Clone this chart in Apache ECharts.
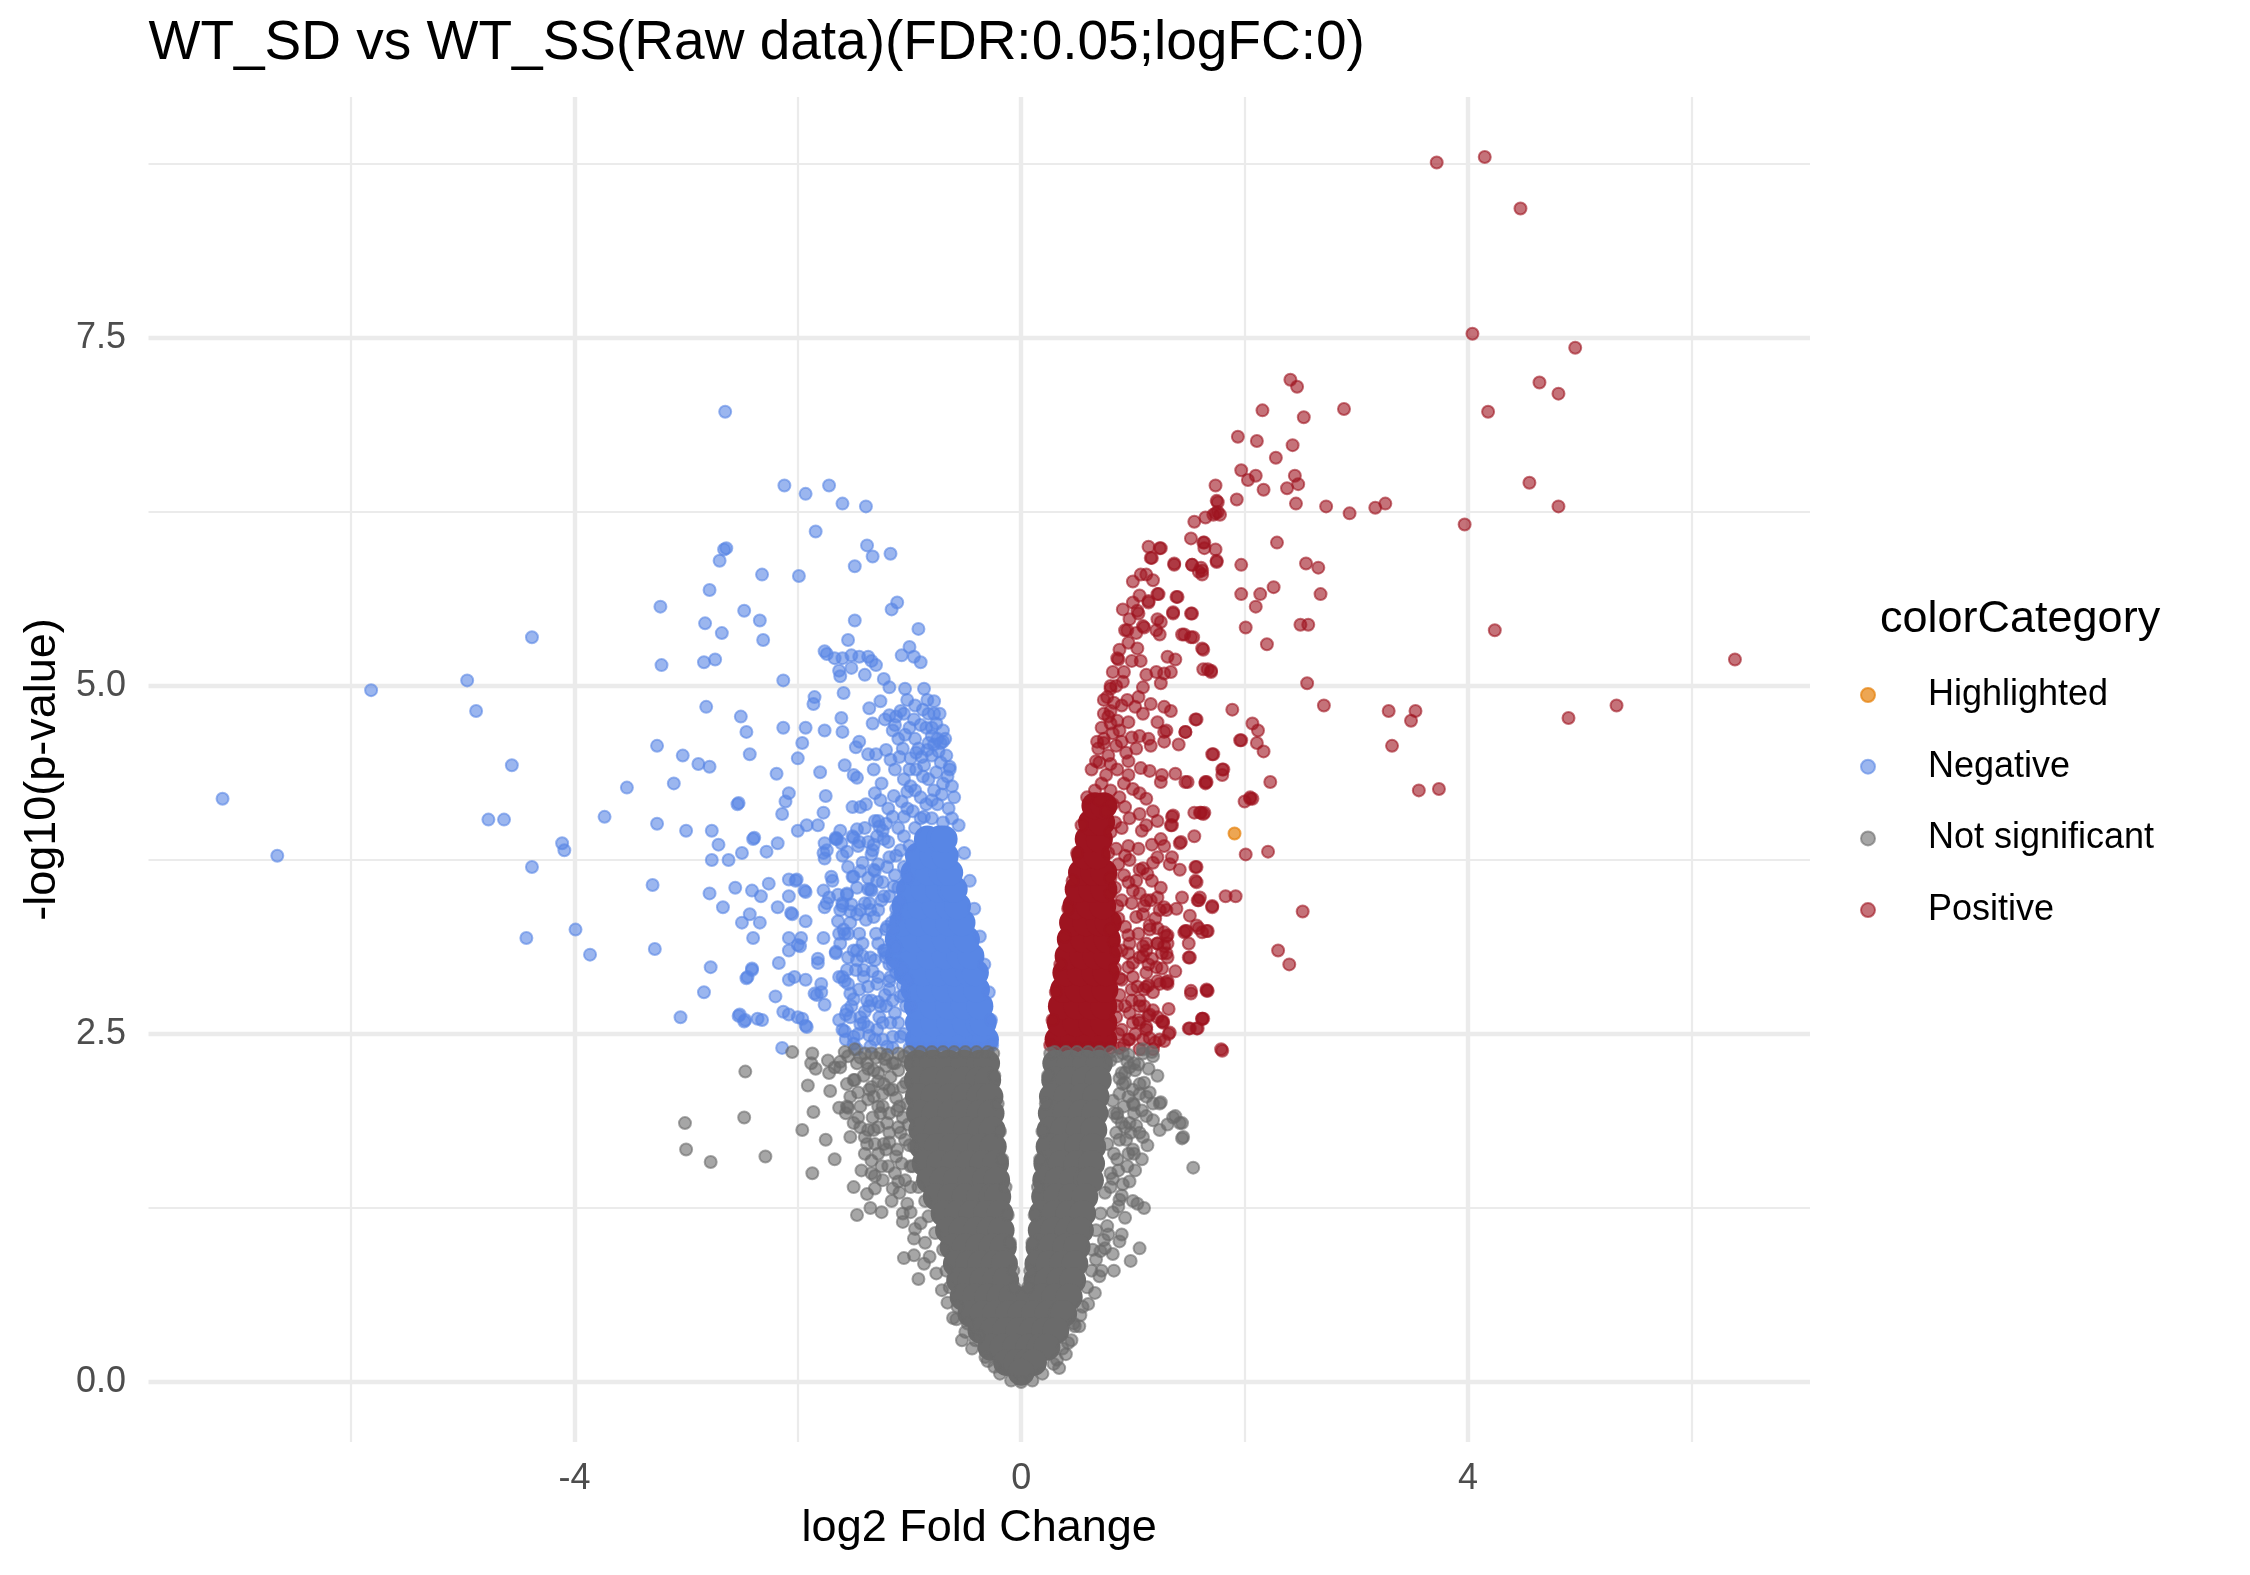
<!DOCTYPE html>
<html><head><meta charset="utf-8">
<script src="https://cdn.jsdelivr.net/npm/echarts@6/dist/echarts.min.js"></script>
<style>html,body{margin:0;padding:0;background:#fff}#chart{width:2250px;height:1575px}</style>
</head><body><div id="chart"></div>
<script>
const titleText = 'WT_SD vs WT_SS(Raw data)(FDR:0.05;logFC:0)';
const xTitle = 'log2 Fold Change';
const yTitle = '-log10(p-value)';
const legendTitle = 'colorCategory';
const categories = ['Highlighted', 'Negative', 'Not significant', 'Positive'];
const xTicks = [-4, 0, 4];
const yTicks = [0, 2.5, 5, 7.5];
const xMajorGrid = [-4, 0, 4];
const xMinorGrid = [-6, -2, 2, 6];
const yMajorGrid = [0, 2.5, 5, 7.5];
const yMinorGrid = [1.25, 3.75, 6.25, 8.75];

// [log2FC, -log10 p]
const highlighted = [[1.91,3.94],[-0.32,0.68]];

const negative = [
[-2.65,6.97],[-2.12,6.44],[-1.93,6.38],[-1.72,6.44],[-1.60,6.31],[-1.39,6.29],[-1.84,6.11],[-2.64,5.99],[-2.66,5.98],[-2.70,5.90],
[-1.38,6.01],[-1.33,5.93],[-1.17,5.95],[-1.49,5.86],[-2.32,5.80],[-1.99,5.79],[-2.79,5.69],[-3.23,5.57],[-1.11,5.60],[-1.16,5.55],
[-2.48,5.54],[-2.83,5.45],[-2.34,5.47],[-1.49,5.47],[-0.92,5.41],[-2.68,5.38],[-2.31,5.33],[-4.38,5.35],[-1.55,5.33],[-1.76,5.25],
[-1.74,5.23],[-1.00,5.28],[-1.07,5.22],[-0.96,5.21],[-0.90,5.17],[-1.67,5.20],[-1.60,5.20],[-1.52,5.22],[-1.45,5.21],[-1.37,5.21],
[-1.34,5.18],[-1.30,5.15],[-1.63,5.11],[-1.62,5.07],[-1.40,5.08],[-1.52,5.13],[-3.22,5.15],[-2.84,5.17],[-2.74,5.19],[-4.96,5.04],
[-5.82,4.97],[-4.88,4.82],[-2.13,5.04],[-1.23,5.05],[-1.18,4.99],[-1.04,4.98],[-1.02,4.90],[-0.87,4.98],[-0.78,4.89],[-1.59,4.95],
[-1.85,4.92],[-1.86,4.87],[-2.82,4.85],[-2.51,4.78],[-2.46,4.67],[-2.43,4.51],[-2.13,4.70],[-1.93,4.70],[-1.76,4.68],[-1.61,4.77],
[-1.60,4.67],[-1.36,4.84],[-1.26,4.89],[-1.18,4.79],[-1.12,4.78],[-1.05,4.80],[-0.96,4.76],[-0.88,4.83],[-0.83,4.80],[-0.76,4.73],
[-0.70,4.68],[-0.72,4.59],[-0.78,4.58],[-1.33,4.73],[-1.22,4.76],[-1.13,4.72],[-1.96,4.59],[-2.00,4.48],[-3.26,4.57],[-3.03,4.50],
[-2.89,4.44],[-2.79,4.42],[-4.56,4.43],[-3.53,4.27],[-3.11,4.30],[-2.19,4.37],[-1.80,4.38],[-1.75,4.21],[-1.58,4.43],[-1.50,4.36],
[-1.47,4.34],[-1.45,4.60],[-1.48,4.56],[-1.37,4.51],[-1.30,4.51],[-1.21,4.54],[-1.10,4.62],[-1.04,4.65],[-1.09,4.49],[-0.99,4.48],
[-0.89,4.49],[-0.83,4.59],[-0.80,4.64],[-1.32,4.40],[-1.25,4.30],[-1.13,4.40],[-1.05,4.33],[-0.94,4.40],[-0.83,4.33],[-0.67,4.50],
[-0.64,4.42],[-0.62,4.28],[-2.53,4.16],[-2.08,4.23],[-2.11,4.17],[-2.14,4.08],[-1.77,4.09],[-1.92,4.00],[-1.82,4.00],[-2.39,3.91],
[-2.77,3.96],[-2.71,3.86],[-2.62,3.75],[-2.50,3.80],[-2.28,3.81],[-2.18,3.87],[-2.00,3.96],[-1.66,3.91],[-1.62,3.96],[-1.56,3.81],
[-1.50,3.91],[-1.51,4.13],[-1.44,4.13],[-1.39,4.15],[-1.31,4.23],[-1.26,4.18],[-1.19,4.12],[-1.31,4.03],[-1.24,3.96],[-1.15,4.06],
[-1.07,4.17],[-0.99,4.28],
[-7.15,4.19],[-6.66,3.78],[-4.77,4.04],[-4.63,4.04],[-4.38,3.70],[-4.11,3.87],[-4.09,3.82],[-3.73,4.06],[-4.43,3.19],[-3.99,3.25],
[-3.86,3.07],[-3.30,3.57],[-3.28,3.11],[-3.26,4.01],[-3.00,3.96],[-2.77,3.75],[-2.54,4.15],[-2.40,3.90],
[-2.79,3.51],[-2.56,3.55],[-2.41,3.53],[-2.26,3.58],[-2.67,3.41],[-2.50,3.30],[-2.43,3.36],[-2.40,3.19],[-2.18,3.41],[-2.06,3.37],
[-2.08,3.61],[-2.01,3.61],[-1.93,3.52],[-2.08,3.19],[-1.97,3.19],[-2.08,3.10],[-2.00,3.14],[-1.93,2.89],[-2.17,3.01],[-2.78,2.98],
[-2.41,2.97],[-2.45,2.91],[-2.84,2.80],[-2.20,2.77],[-3.05,2.62],[-2.53,2.63],[-2.47,2.60],[-2.36,2.61],[-2.13,2.66],[-2.08,2.64],
[-2.00,2.62],[-1.93,2.56],[-2.14,2.40],[-1.83,2.78],[-1.82,3.04],[-1.79,2.80],[-1.76,3.76],[-1.74,3.82],[-1.60,3.78],[-1.66,3.90],
[-1.51,3.92],[-1.47,3.97],[-1.76,3.41],[-1.60,3.44],[-1.70,3.63],[-1.51,3.63],[-1.66,3.09],[-1.63,2.91],[-1.50,2.75],[-1.57,2.64],
[-1.44,2.57],[-1.63,3.22],[-1.45,3.22],[-1.53,3.30],[-1.35,3.39],[-1.37,3.54],[-1.31,3.67],[-1.34,3.79],[-1.29,3.92],[-1.21,4.01],
[-1.57,2.46],[-1.36,2.49],[-1.24,2.46],[-1.15,2.40],[-1.28,2.73],[-1.18,2.88],[-1.11,3.00],
[-2.33,3.49],[-2.34,3.30],[-2.02,3.60],[-2.08,3.49],[-2.05,3.36],[-1.93,3.31],[-1.94,3.53],[-1.98,3.13],[-1.77,3.19],[-1.77,3.53],
[-1.72,3.48],[-1.64,3.50],[-1.74,3.44],[-1.69,3.60],[-1.56,3.50],[-1.52,3.43],[-1.47,3.36],[-1.58,3.22],[-1.55,3.22],[-1.64,3.31],
[-1.62,3.39],[-1.77,3.80],[-1.76,3.87],[-1.61,3.87],[-1.65,3.90],[-1.45,3.88],[-1.37,3.88],[-1.32,3.86],[-1.44,3.67],[-1.37,3.62],
[-1.34,3.53],[-1.36,3.44],[-1.39,3.32],[-1.50,3.10],[-1.42,3.06],[-1.28,4.03],[-1.23,3.90],[-1.18,3.77],[-1.28,3.72],[-1.24,3.59],
[-1.18,3.49],[-1.28,3.39],[-1.21,3.25],[-1.28,3.15],[-1.15,3.15],[-1.21,3.05],[-1.12,3.34],[-1.13,3.64],[-1.08,3.82],[-1.10,3.98],
[-1.05,4.06],
[-2.41,2.96],[-2.46,2.90],[-2.52,2.64],[-2.48,2.59],[-2.32,2.60],[-1.96,2.61],[-1.92,2.55],[-2.08,2.89],[-2.03,2.91],[-1.82,3.01],
[-1.85,2.79],[-1.76,2.71],[-1.79,2.86],[-1.66,3.08],[-1.60,2.91],[-1.55,2.86],[-1.63,2.60],[-1.60,2.53],[-1.50,2.48],[-1.56,2.67],
[-1.47,3.03],[-1.41,2.96],[-1.37,2.84],[-1.34,2.74],[-1.44,2.62],[-1.37,2.55],[-1.31,2.46],[-1.47,2.39],[-1.24,2.58],[-1.21,2.70],
[-1.18,2.82],[-1.28,2.91],[-1.31,3.03],[-1.21,3.08],[-1.12,2.94],[-1.08,2.77],[-1.10,2.58],[-1.15,2.48],[-0.99,2.70],[-1.02,2.89],
[-1.50,3.63],[-1.32,3.68],[-1.56,3.51],[-1.35,3.54],[-1.23,3.49],[-1.44,3.39],[-1.59,3.25],[-1.32,3.34],[-1.20,3.27],[-1.47,3.10],
[-1.35,3.05],[-1.23,3.10],[-1.56,2.96],[-1.41,2.91],[-1.29,2.86],[-1.17,2.91],[-1.53,2.79],[-1.38,2.74],[-1.26,2.70],[-1.15,2.74],
[-1.53,2.62],[-1.41,2.58],[-1.29,2.53],[-1.17,2.58],[-1.50,2.43],[-1.35,2.41],[-1.20,2.41],[-1.08,2.48],
[-1.58,2.52],[-1.46,2.50],[-1.40,2.66],[-1.52,2.70],[-1.27,2.62],[-1.13,2.65],[-1.05,2.78],[-1.22,2.78],[-1.45,2.82],[-1.58,2.88],
[-1.33,2.95],[-1.18,3.00],[-1.07,2.97],[-1.42,3.15],[-1.55,3.05],[-1.30,3.22],[-1.16,3.30],[-1.40,3.44],[-1.53,3.38],[-1.25,3.46],
[-1.14,3.56],[-1.47,3.55],[-1.29,3.60],[-1.42,3.73],[-1.20,3.70],[-1.55,3.70],[-1.12,3.78],[-1.33,3.82],[-1.46,3.85],[-1.19,3.88],
[-1.05,3.92],[-1.40,3.98],[-1.27,3.99],[-1.60,3.42],[-1.62,3.15],[-1.36,2.70],[-1.48,2.96],[-1.12,3.12],[-1.09,3.45],[-1.02,3.62],
[-1.14,4.21],[-1.02,4.24],[-0.90,4.20],[-0.80,4.18],[-0.71,4.22],[-0.66,4.35],[-0.76,4.38],[-0.87,4.43],[-1.00,4.40],[-1.17,4.47],
[-1.06,4.55],[-0.94,4.52],[-0.84,4.54],[-0.74,4.53],[-0.68,4.62],[-0.80,4.70],[-0.90,4.72],[-1.00,4.70],[-1.15,4.68],[-1.08,4.82],
[-0.95,4.86],[-0.84,4.90],[-0.73,4.80],[-0.97,4.10],[-0.87,4.06],[-0.62,4.05],[-1.02,4.12],
[-0.26,2.42],[-0.27,2.60],[-0.29,2.80],[-0.33,3.00],[-0.37,3.20],[-0.42,3.40],[-0.46,3.60],[-0.51,3.80],[-0.56,4.00],[-0.60,4.20],
[-0.64,4.40],[-0.70,4.60],[-0.78,4.80],
[-1.00,2.40],[-0.90,2.40],[-0.80,2.40],[-0.70,2.40],[-0.60,2.40],[-0.50,2.40],[-0.40,2.40],[-0.32,2.40],
[-1.05,2.50],[-1.03,2.70],[-1.06,2.85],[-1.15,3.00],[-1.22,3.10],[-1.15,3.25],[-1.12,3.40],[-1.10,3.55],[-1.05,3.70],[-1.00,3.85],
[-0.95,3.98],[-0.90,4.05],[-0.80,4.05],[-0.70,4.02],[-0.75,4.15],[-0.85,4.15],[-0.65,4.12],[-0.95,4.25],[-0.88,4.35],[-0.78,4.25],
[-0.70,4.30],[-0.72,4.45],[-0.80,4.50],[-0.92,4.55],[-0.75,4.62],[-0.85,4.70],[-0.95,4.62]
];

// saturated overlap of many Negative genes
const negativeDense = [
[-0.92,2.46],[-0.78,2.46],[-0.64,2.46],[-0.50,2.46],[-0.38,2.46],[-0.32,2.46],
[-0.92,2.58],[-0.78,2.58],[-0.64,2.58],[-0.50,2.58],[-0.38,2.58],[-0.34,2.58],
[-0.93,2.70],[-0.79,2.70],[-0.65,2.70],[-0.51,2.70],[-0.37,2.70],
[-0.96,2.82],[-0.82,2.82],[-0.68,2.82],[-0.54,2.82],[-0.40,2.82],
[-1.02,2.94],[-0.88,2.94],[-0.74,2.94],[-0.60,2.94],[-0.47,2.94],[-0.41,2.94],
[-1.10,3.06],[-0.96,3.06],[-0.82,3.06],[-0.68,3.06],[-0.55,3.06],[-0.45,3.06],
[-1.10,3.18],[-0.96,3.18],[-0.82,3.18],[-0.68,3.18],[-0.56,3.18],[-0.49,3.18],
[-1.06,3.30],[-0.92,3.30],[-0.78,3.30],[-0.65,3.30],[-0.53,3.30],
[-1.04,3.42],[-0.90,3.42],[-0.77,3.42],[-0.65,3.42],[-0.57,3.42],
[-1.00,3.54],[-0.87,3.54],[-0.74,3.54],[-0.63,3.54],[-0.60,3.54],
[-0.96,3.66],[-0.83,3.66],[-0.71,3.66],[-0.64,3.66],
[-0.92,3.78],[-0.79,3.78],[-0.68,3.78],
[-0.84,3.90],[-0.73,3.90],[-0.69,3.90]
];

const positive = [
[3.72,8.76],[4.15,8.80],[4.47,8.43],[4.04,7.53],[4.96,7.43],[2.41,7.20],[2.47,7.15],[4.64,7.18],[4.81,7.10],[2.16,6.98],
[2.89,6.99],[4.18,6.97],[2.53,6.93],[1.94,6.79],[2.11,6.76],[2.43,6.73],[2.28,6.64],[1.97,6.55],[2.03,6.48],[2.10,6.51],
[2.45,6.51],[2.48,6.45],[2.38,6.42],[2.17,6.41],[1.74,6.44],[4.55,6.46],[1.93,6.34],[1.75,6.33],[1.76,6.25],[1.72,6.23],
[2.46,6.31],[2.73,6.29],[2.94,6.24],[3.17,6.28],[3.26,6.31],[4.81,6.29],[3.97,6.16],[1.55,6.18],[1.65,6.21],[1.52,6.06],
[1.64,6.03],[1.74,5.98],[2.29,6.03],[1.24,5.99],[1.17,5.92],[1.37,5.88],[1.53,5.87],[1.59,5.82],[1.62,5.83],[1.75,5.90],
[1.97,5.87],[2.55,5.88],[2.66,5.85],[1.00,5.75],[1.22,5.66],[1.39,5.64],[1.14,5.60],[1.04,5.54],[1.97,5.66],[2.14,5.66],
[2.26,5.71],[2.10,5.57],[2.68,5.66],[1.36,5.53],[1.52,5.52],[1.22,5.48],[1.09,5.43],[1.24,5.37],[1.44,5.37],[1.52,5.35],
[1.62,5.27],[1.67,5.12],[1.70,5.11],[2.20,5.30],[2.01,5.42],[2.50,5.44],[2.57,5.44],[4.24,5.40],[6.39,5.19],[2.56,5.02],
[1.89,4.83],[2.71,4.86],[3.29,4.82],[3.53,4.82],[3.49,4.75],[2.07,4.73],[2.12,4.68],[1.96,4.61],[2.17,4.53],[3.32,4.57],
[1.56,4.76],[1.47,4.67],[1.71,4.51],[1.80,4.40],[1.65,4.31],[2.23,4.31],[5.33,4.86],[4.90,4.77],[3.56,4.25],[3.74,4.26],
[2.05,4.20],[2.07,4.19],
[2.01,3.79],[2.21,3.81],[1.61,4.09],[1.64,4.09],[1.35,4.06],[1.35,4.00],[1.55,3.92],[1.43,3.88],[1.25,3.90],[1.56,3.70],
[1.56,3.60],[1.35,3.77],[1.83,3.49],[1.92,3.49],[1.71,3.42],[1.58,3.46],[1.51,3.35],[1.30,3.39],[1.22,3.48],[2.52,3.38],
[2.30,3.10],[2.40,3.00],[1.67,3.24],[1.59,3.26],[1.47,3.24],[1.31,3.21],[1.22,3.26],[1.51,3.05],[1.30,3.08],[1.22,3.15],
[1.12,3.15],[1.67,2.81],[1.52,2.79],[1.31,2.86],[1.22,2.88],[1.10,2.82],[1.62,2.61],[1.57,2.54],[1.51,2.54],[1.33,2.51],
[1.27,2.58],[1.14,2.63],[1.05,2.60],[1.80,2.38],[0.96,4.36],[1.25,4.31],[1.47,4.31],[1.66,4.31],[1.80,4.36],
[1.76,6.32],[1.74,6.24],[1.78,6.23],[1.63,6.03],[1.64,5.99],[1.75,5.89],[1.61,5.85],[1.62,5.80],[1.53,5.87],[1.37,5.87],
[1.25,5.99],[1.16,5.92],[1.23,5.66],[1.14,5.61],[1.40,5.64],[1.05,5.52],[0.97,5.48],[1.10,5.42],[1.25,5.46],[1.21,5.40],
[1.36,5.52],[1.53,5.52],[1.46,5.37],[1.54,5.35],[1.63,5.26],[0.96,5.31],[1.04,5.27],[0.87,5.19],[0.99,5.18],[1.07,5.18],
[1.31,5.21],[1.38,5.19],[1.21,5.10],[1.28,5.09],[1.34,5.10],[1.25,5.02],[1.63,5.12],[1.70,5.10],[0.80,4.98],[0.77,4.92],
[0.91,5.03],[1.09,4.99],[0.90,4.86],[0.80,4.82],[1.02,4.85],[1.16,4.87],[1.28,4.85],[1.34,4.82],[1.09,4.80],[0.96,4.74],
[0.80,4.73],[1.22,4.74],[1.28,4.67],[1.57,4.76],[1.97,4.61],[0.74,4.59],[0.85,4.57],[1.06,4.64],[1.16,4.57],[1.14,4.62],
[1.28,4.60],[1.41,4.58],[1.47,4.67],[1.30,4.68],[1.72,4.51],[1.81,4.40],[0.67,4.46],[0.80,4.44],[0.96,4.46],[1.07,4.41],
[1.15,4.39],[1.26,4.36],[1.38,4.37],[1.49,4.31],[1.65,4.30],[2.11,4.59],[2.05,4.19],[2.00,4.17],[1.06,4.23],[1.12,4.19],
[1.18,4.10],[1.12,4.00],[1.22,4.03],[1.06,4.08],[1.36,4.07],[1.34,4.00],[1.55,4.09],[1.60,4.09],[1.63,4.08],[1.42,3.87],
[1.28,3.85],[1.22,3.77],[1.09,3.69],[1.57,3.59],[1.44,3.48],[1.28,3.41],[1.60,3.48],[1.71,3.41],[1.09,3.36],[1.15,3.28],
[1.28,3.23],[1.12,3.10],[1.22,3.15],[1.31,3.05],[1.46,3.23],[1.57,3.28],[1.62,3.23],[1.50,3.15],
[1.50,3.05],[1.66,2.81],[1.52,2.81],[1.26,2.97],[1.31,2.88],[1.14,2.85],[1.28,3.13],[1.31,3.15],[1.62,2.61],[1.58,2.54],
[1.50,2.54],[1.26,2.59],[1.32,2.50],[1.15,2.64],[1.12,2.55],[1.20,2.44],[1.79,2.39],[0.99,2.74],[1.12,2.94],[1.06,2.70],
[0.96,3.08],[1.09,3.13],[1.17,3.04],[0.90,3.10],[0.96,2.98],[0.90,2.89],[0.99,2.82],[0.93,2.70],[1.06,2.58],[0.90,2.53],
[0.96,2.46],[1.09,2.46],
[0.90,3.98],[0.96,3.85],[0.87,3.72],[0.96,3.59],[0.90,3.46],[1.06,3.51],[0.87,3.33],[0.96,3.21],[0.80,3.25],[0.80,3.51],
[1.16,3.46],[1.17,3.60],[1.06,3.05],[0.80,3.62],[0.78,3.80],[0.80,3.95],[0.76,4.10],
[0.97,3.75],[1.06,3.68],[1.18,3.73],[1.00,3.53],[1.12,3.46],[1.24,3.39],[1.03,3.34],[1.15,3.25],[1.30,3.20],[0.97,3.15],
[1.09,3.06],[1.21,2.98],[1.00,2.91],[1.12,2.84],[1.06,2.74],[1.18,2.67],[1.00,2.58],[1.12,2.53],[1.24,2.46],[0.97,2.46],
[1.06,2.39],[1.18,2.39],[1.33,3.72],[1.42,3.68],[1.57,3.70],[1.59,3.46],[1.39,3.40],[1.48,3.24],[1.66,3.24],[1.66,2.82],
[1.63,2.61],[1.27,2.59],[1.24,2.86],[1.30,2.87],
[0.92,2.42],[1.02,2.50],[1.15,2.47],[1.28,2.45],[0.85,2.62],[0.97,2.65],[1.10,2.70],[1.22,2.62],[0.88,2.78],[1.04,2.84],
[1.18,2.80],[0.84,2.97],[1.00,3.01],[1.14,3.00],[1.26,3.08],[0.83,3.16],[0.93,3.27],[1.05,3.22],[1.20,3.33],[0.86,3.42],
[0.99,3.44],[1.10,3.42],[0.84,3.55],[0.92,3.64],[1.03,3.60],[1.13,3.65],[0.85,3.83],[0.93,3.78],[1.05,3.83],[1.17,3.86],
[0.84,4.02],[0.97,4.05],[1.08,3.96],[1.25,3.55],[1.32,2.68],[1.38,2.95],
[0.70,4.18],[0.82,4.15],[0.93,4.13],[1.00,4.26],[0.92,4.30],[0.76,4.36],[0.69,4.55],[0.94,4.52],[1.03,4.55],[0.72,4.70],
[0.88,4.68],[0.99,4.63],[0.83,4.88],[0.74,4.90],[1.05,4.92],[0.92,5.10],[0.82,5.10],[1.12,5.08],[0.88,5.26],[0.95,5.40],
[1.03,5.38],[0.91,5.55],[1.06,5.65],[1.12,5.80],[1.18,5.76],
[0.66,4.25],[0.72,4.30],[0.80,4.25],[0.88,4.20],[0.70,4.45],[0.78,4.50],[0.86,4.40],[0.74,4.62],[0.82,4.66],[0.90,4.60],
[0.78,4.78],[0.86,4.75],[0.95,4.90],[0.85,5.00],
[0.26,2.42],[0.28,2.60],[0.31,2.80],[0.35,3.00],[0.39,3.20],[0.42,3.40],[0.46,3.60],[0.50,3.80],[0.54,4.00],[0.59,4.20],
[0.63,4.40],[0.68,4.60],[0.74,4.80],[0.80,5.00],[0.86,5.20],[0.93,5.40],[1.00,5.60],[1.07,5.80],[1.14,6.00],
[0.30,2.40],[0.40,2.40],[0.50,2.40],[0.60,2.40],[0.70,2.40],[0.80,2.40],[0.88,2.40],
[0.87,2.50],[0.86,2.70],[0.88,2.90],[0.85,3.10]
];

// saturated overlap of many Positive genes
const positiveDense = [
[0.33,2.46],[0.47,2.46],[0.61,2.46],[0.74,2.46],
[0.35,2.58],[0.49,2.58],[0.63,2.58],[0.74,2.58],
[0.36,2.70],[0.50,2.70],[0.63,2.70],[0.74,2.70],
[0.38,2.82],[0.51,2.82],[0.64,2.82],[0.75,2.82],
[0.40,2.94],[0.53,2.94],[0.66,2.94],[0.76,2.94],
[0.42,3.06],[0.55,3.06],[0.67,3.06],[0.77,3.06],
[0.44,3.18],[0.56,3.18],[0.68,3.18],[0.77,3.18],
[0.46,3.30],[0.58,3.30],[0.70,3.30],[0.78,3.30],
[0.49,3.42],[0.61,3.42],[0.73,3.42],
[0.51,3.54],[0.63,3.54],[0.74,3.54],
[0.54,3.66],[0.65,3.66],[0.74,3.66],
[0.57,3.78],[0.68,3.78],
[0.60,3.90],[0.70,3.90],
[0.63,4.02],[0.72,4.02],
[0.66,4.14],[0.74,4.14]
];

const notSignificant = [
[-2.05,2.37],[-1.87,2.36],[-2.47,2.23],[-1.73,2.31],[-1.88,2.29],[-1.84,2.25],[-1.67,2.26],[-1.72,2.22],[-1.91,2.13],[-1.71,2.09],
[-2.48,1.90],[-1.86,1.94],[-1.63,1.97],[-1.55,1.97],[-1.57,1.93],[-1.50,1.86],[-1.96,1.81],[-1.75,1.74],[-2.78,1.58],[-2.29,1.62],
[-1.87,1.50],[-1.67,1.60],[-1.50,1.40],[-1.47,1.20],[-1.35,1.25],[-1.31,1.39],[-1.15,1.39],[-1.40,1.64],[-1.34,1.50],[-1.06,1.21],
[-0.96,1.03],[-1.05,0.89],[-0.96,0.91],[-0.87,0.85],[-0.92,0.74],[-0.90,1.14],[-0.61,0.46],[-0.53,0.30],[-0.24,0.11],[-0.30,0.15],
[-0.38,0.33],[-3.01,1.86],[-3.00,1.67],
[-1.47,2.29],[-1.37,2.25],[-1.28,2.22],[-1.21,2.27],[-1.13,2.29],[-1.49,2.17],[-1.34,2.12],[-1.24,2.07],[-1.15,2.10],[-1.37,2.03],
[-1.28,1.98],[-1.18,1.93],[-1.09,1.98],[-1.37,1.81],[-1.28,1.83],[-1.18,1.79],[-1.10,1.83],[-1.31,1.71],[-1.21,1.67],[-1.12,1.62],
[-1.34,1.59],[-1.25,1.55],[-1.13,1.50],[-1.04,1.45],[-1.31,1.48],[-1.09,1.36],[-1.02,1.28],[-0.99,1.40],[-0.99,1.55],[-0.96,1.69],
[-1.04,1.74],[-1.10,2.36],[-1.20,2.35],[-1.30,2.33],[-1.40,2.36],[-1.55,2.34],[-1.62,2.30],
[-1.49,2.39],[-1.38,2.29],[-1.50,2.17],[-1.32,2.24],[-1.23,2.14],[-1.15,2.29],[-1.18,2.10],[-1.32,2.05],[-1.44,1.98],[-1.56,1.98],
[-1.26,1.93],[-1.11,1.95],[-1.44,1.83],[-1.32,1.81],[-1.20,1.86],[-1.08,1.79],[-1.53,1.76],[-1.38,1.71],[-1.23,1.71],[-1.11,1.67],
[-1.62,2.26],[-1.56,2.14],[-1.05,2.34],[-1.26,2.36],
[-1.58,2.37],[-1.44,2.33],[-1.34,2.36],[-1.22,2.32],[-1.10,2.24],[-1.41,2.20],[-1.28,2.16],[-1.17,2.19],[-1.06,2.12],[-1.46,2.08],
[-1.36,2.10],[-1.12,2.04],[-1.53,2.05],[-1.24,1.98],[-1.06,1.90],[-1.33,1.90],[-1.46,1.90],[-1.40,1.76],[-1.18,1.72],[-1.28,1.64],
[-1.07,1.57],[-1.43,1.52],[-1.19,1.55],[-1.24,1.45],[-1.10,1.44],[-1.38,1.35],[-1.16,1.30],[-1.25,1.22],[-1.06,1.15],[-0.99,1.22],
[-0.95,1.10],[-0.86,1.00],[-0.82,0.90],[-0.76,0.78],[-0.71,0.66],[-0.66,0.57],[-0.58,0.45],[-0.50,0.36],[-0.44,0.24],
[-1.02,2.30],[-1.03,2.15],[-1.02,2.00],[-1.01,1.85],[-1.00,1.70],[-0.97,1.55],[-0.92,1.40],[-0.86,1.30],
[-0.83,1.19],[-0.77,1.07],[-0.70,0.95],[-0.67,0.80],[-0.64,0.68],[-0.57,0.54],[-0.48,0.42],[-0.41,0.30],[-0.32,0.18],[-0.19,0.06],
[-0.09,0.01],[0.00,0.00],[0.10,0.01],[0.19,0.06],[0.32,0.16],[0.42,0.28],[0.48,0.40],[0.55,0.54],[0.59,0.68],[0.63,0.80],
[0.64,0.95],[0.67,1.09],[0.71,1.21],[0.75,1.36],[0.80,1.50],[0.83,1.64],[0.85,1.79],[0.86,1.93],[0.88,2.07],[0.90,2.22],
[0.91,2.36],
[1.09,2.36],[1.17,2.37],[1.01,2.29],[1.02,2.24],[1.10,2.15],[0.93,2.15],[1.18,2.00],[1.25,2.01],[1.01,1.99],[1.12,1.91],
[1.38,1.91],[1.31,1.85],[1.44,1.86],[1.44,1.75],[1.09,1.76],[0.98,1.79],[1.54,1.54],[1.01,1.64],[1.02,1.52],[0.91,1.42],
[1.04,1.28],[1.10,1.25],[0.88,1.31],[0.88,1.01],[1.06,0.96],[0.98,0.87],[0.83,0.80],[0.72,0.80],[0.71,0.94],[0.53,0.48],
[0.47,0.42],[0.45,0.30],[0.29,0.13],[0.37,0.24],
[0.80,2.31],[0.96,2.35],[0.93,2.22],[0.96,2.05],[0.83,1.93],[0.93,1.83],[0.96,1.64],[0.87,1.52],[0.80,1.40],[0.87,1.26],
[0.77,1.12],[0.74,1.02],[0.67,0.88],[0.77,1.71],[1.01,1.93],[1.06,2.07],
[0.86,2.34],[0.97,2.26],[1.06,2.14],[1.12,2.05],[1.24,2.00],[1.00,2.00],[0.91,2.14],[0.86,1.90],[0.97,1.86],[1.06,1.79],
[1.24,1.81],[1.36,1.90],[1.42,1.86],[1.45,1.76],[0.88,1.74],[1.00,1.67],[0.82,2.02],[1.18,2.34],[1.09,2.39],
[0.95,2.30],[1.05,2.28],[1.14,2.25],[1.22,2.20],[0.88,2.18],[1.00,2.10],[1.15,2.08],[0.92,1.98],[1.08,1.95],[1.18,1.88],
[0.90,1.86],[1.03,1.84],[0.94,1.74],[1.13,1.70],[0.86,1.60],[0.95,1.55],[1.08,1.60],[0.82,1.46],[0.97,1.44],[0.90,1.34],
[1.00,1.30],[0.82,1.22],[0.93,1.18],[0.78,1.06],[0.90,1.06],[0.75,0.96],[0.82,0.92],[0.70,0.76],[0.66,0.64],[0.60,0.56],
[0.52,0.40],[0.40,0.20],[0.34,0.10],
[-1.00,2.37],[-0.90,2.37],[-0.80,2.37],[-0.70,2.37],[-0.60,2.37],[-0.50,2.37],[-0.40,2.37],[-0.30,2.37],
[0.30,2.37],[0.40,2.37],[0.50,2.37],[0.60,2.37],[0.70,2.37],[0.80,2.37],
[-0.25,2.36],[-0.24,2.20],[-0.21,2.00],[-0.19,1.80],[-0.17,1.60],[-0.14,1.40],[-0.12,1.20],[-0.10,1.00],[-0.07,0.80],[-0.06,0.68],
[0.26,2.36],[0.24,2.20],[0.22,2.00],[0.19,1.80],[0.17,1.60],[0.15,1.40],[0.12,1.20],[0.10,1.00],[0.08,0.80],[0.06,0.68]
];

// saturated overlap of many Not significant genes
const notSignificantDense = [
[-0.93,2.29],[-0.79,2.29],[-0.65,2.29],[-0.51,2.29],[-0.37,2.29],[-0.31,2.29],[0.31,2.29],[0.44,2.29],[0.58,2.29],[0.70,2.29],
[-0.93,2.17],[-0.79,2.17],[-0.65,2.17],[-0.51,2.17],[-0.38,2.17],[-0.30,2.17],[0.30,2.17],[0.43,2.17],[0.57,2.17],[0.69,2.17],
[-0.92,2.05],[-0.78,2.05],[-0.64,2.05],[-0.50,2.05],[-0.37,2.05],[-0.28,2.05],[0.28,2.05],[0.41,2.05],[0.55,2.05],[0.67,2.05],
[-0.91,1.93],[-0.77,1.93],[-0.63,1.93],[-0.50,1.93],[-0.37,1.93],[-0.27,1.93],[0.27,1.93],[0.40,1.93],[0.54,1.93],[0.66,1.93],
[-0.89,1.81],[-0.75,1.81],[-0.62,1.81],[-0.49,1.81],[-0.36,1.81],[-0.26,1.81],[0.26,1.81],[0.38,1.81],[0.52,1.81],[0.65,1.81],
[-0.88,1.69],[-0.75,1.69],[-0.62,1.69],[-0.49,1.69],[-0.36,1.69],[-0.25,1.69],[0.25,1.69],[0.37,1.69],[0.51,1.69],[0.64,1.69],
[-0.86,1.57],[-0.73,1.57],[-0.60,1.57],[-0.47,1.57],[-0.34,1.57],[-0.23,1.57],[0.23,1.57],[0.36,1.57],[0.50,1.57],[0.63,1.57],
[-0.82,1.45],[-0.70,1.45],[-0.58,1.45],[-0.45,1.45],[-0.32,1.45],[-0.22,1.45],[0.22,1.45],[0.33,1.45],[0.46,1.45],[0.59,1.45],[0.62,1.45],
[-0.76,1.33],[-0.63,1.33],[-0.50,1.33],[-0.37,1.33],[-0.26,1.33],[-0.21,1.33],[0.21,1.33],[0.32,1.33],[0.45,1.33],[0.57,1.33],
[-0.69,1.21],[-0.57,1.21],[-0.44,1.21],[-0.31,1.21],[-0.19,1.21],[0.19,1.21],[0.30,1.21],[0.43,1.21],[0.55,1.21],
[-0.65,1.09],[-0.53,1.09],[-0.40,1.09],[-0.28,1.09],[-0.18,1.09],[0.18,1.09],[0.29,1.09],[0.42,1.09],[0.53,1.09],
[-0.61,0.97],[-0.50,0.97],[-0.38,0.97],[-0.26,0.97],[-0.16,0.97],[0.16,0.97],[0.27,0.97],[0.40,0.97],[0.50,0.97],
[-0.58,0.85],[-0.47,0.85],[-0.36,0.85],[-0.24,0.85],[-0.15,0.85],[0.15,0.85],[0.25,0.85],[0.37,0.85],[0.48,0.85],
[-0.55,0.73],[-0.45,0.73],[-0.34,0.73],[-0.23,0.73],[-0.14,0.73],[0.14,0.73],[0.24,0.73],[0.35,0.73],[0.46,0.73],
[-0.52,0.61],[-0.41,0.61],[-0.30,0.61],[-0.19,0.61],[-0.08,0.61],[0.08,0.61],[0.19,0.61],[0.30,0.61],[0.43,0.61],
[-0.45,0.49],[-0.34,0.49],[-0.23,0.49],[-0.11,0.49],[0.00,0.49],[0.12,0.49],[0.24,0.49],[0.36,0.49],[0.38,0.49],
[-0.36,0.37],[-0.25,0.37],[-0.14,0.37],[-0.02,0.37],[0.10,0.37],[0.21,0.37],[0.31,0.37],
[-0.27,0.25],[-0.16,0.25],[-0.05,0.25],[0.07,0.25],[0.17,0.25],[0.23,0.25],
[-0.13,0.14],[-0.04,0.14],[0.05,0.14],[0.11,0.14],
[0.00,0.07]
];

const colors = {
  'Highlighted': [230, 128, 10],
  'Negative': [88, 134, 229],
  'Not significant': [107, 107, 107],
  'Positive': [158, 20, 32]
};
const FONT = "'Liberation Sans', Arial, Helvetica, sans-serif";
function rgba(c, a) { return 'rgba(' + c[0] + ',' + c[1] + ',' + c[2] + ',' + a + ')'; }

function pointSeries(name, data, alpha) {
  const c = colors[name];
  return {
    type: 'scatter', name: name, data: data, symbol: 'circle', symbolSize: 12,
    itemStyle: { color: rgba(c, alpha), borderColor: rgba(c, alpha), borderWidth: 2, opacity: 1 },
    silent: true, animation: false, z: 2
  };
}
function denseSeries(name, data) {
  const c = colors[name];
  return {
    type: 'scatter', name: name + ' (dense)', data: data, symbol: 'circle', symbolSize: 27,
    itemStyle: { color: rgba(c, 1), borderWidth: 0, opacity: 1 },
    silent: true, animation: false, z: 2
  };
}

const gridLines = []
  .concat(xMinorGrid.map(v => ({ xAxis: v, lineStyle: { color: '#EBEBEB', width: 2.2, type: 'solid', opacity: 1 } })))
  .concat(yMinorGrid.map(v => ({ yAxis: v, lineStyle: { color: '#EBEBEB', width: 2.2, type: 'solid', opacity: 1 } })))
  .concat(xMajorGrid.map(v => ({ xAxis: v, lineStyle: { color: '#EBEBEB', width: 4.4, type: 'solid', opacity: 1 } })))
  .concat(yMajorGrid.map(v => ({ yAxis: v, lineStyle: { color: '#EBEBEB', width: 4.4, type: 'solid', opacity: 1 } })));

const option = {
  backgroundColor: '#ffffff',
  animation: false,
  title: [
    { text: titleText, left: 148.5, top: 16, padding: 0,
      textStyle: { fontFamily: FONT, fontSize: 55, fontWeight: 'normal', color: '#000000' } },
    { text: legendTitle, left: 1880, top: 597, padding: 0,
      textStyle: { fontFamily: FONT, fontSize: 45, fontWeight: 'normal', color: '#000000' } }
  ],
  legend: {
    data: categories, orient: 'vertical', left: 1860, top: 677, padding: 0,
    itemWidth: 110, itemHeight: 14, itemGap: 35.7, icon: 'circle', selectedMode: false,
    textStyle: { fontFamily: FONT, fontSize: 36, lineHeight: 36, color: '#000000' }
  },
  grid: { left: 148.5, top: 97, width: 1661.5, height: 1345, containLabel: false },
  xAxis: {
    type: 'value', min: -7.813, max: 7.062,
    name: xTitle, nameLocation: 'middle', nameGap: 64,
    nameTextStyle: { fontFamily: FONT, fontSize: 45, color: '#000000' },
    axisLine: { show: false }, axisTick: { show: false }, splitLine: { show: false },
    axisLabel: { customValues: xTicks, formatter: v => String(v), fontFamily: FONT, fontSize: 36, color: '#4D4D4D', margin: 19 }
  },
  yAxis: {
    type: 'value', min: -0.431, max: 9.231,
    name: yTitle, nameLocation: 'middle', nameGap: 82,
    nameTextStyle: { fontFamily: FONT, fontSize: 45, color: '#000000' },
    axisLine: { show: false }, axisTick: { show: false }, splitLine: { show: false },
    axisLabel: { customValues: yTicks, formatter: v => Number(v).toFixed(1), fontFamily: FONT, fontSize: 36, color: '#4D4D4D', margin: 22.5 }
  },
  series: [
    { type: 'scatter', name: 'grid', data: [], silent: true, z: 1,
      markLine: { silent: true, z: 1, symbol: ['none', 'none'], label: { show: false }, animation: false,
        emphasis: { disabled: true }, data: gridLines } },
    pointSeries('Highlighted', highlighted, 0.7),
    denseSeries('Negative', negativeDense),
    pointSeries('Negative', negative, 0.6),
    denseSeries('Positive', positiveDense),
    pointSeries('Positive', positive, 0.6),
    denseSeries('Not significant', notSignificantDense),
    pointSeries('Not significant', notSignificant, 0.6)
  ]
};
const chart = echarts.init(document.getElementById('chart'));
chart.setOption(option);
</script></body></html>
